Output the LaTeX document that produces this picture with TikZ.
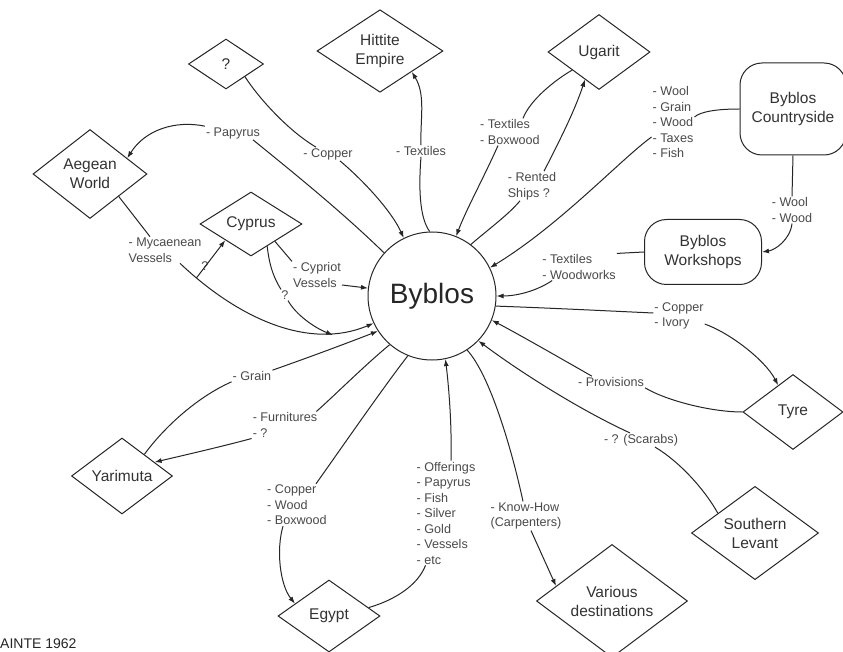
\documentclass[tikz,border=0pt]{standalone}
\usepackage{fontspec}
\setmainfont{Liberation Sans}
\usetikzlibrary{shapes.geometric,arrows.meta}
\definecolor{ln}{HTML}{262626}
\definecolor{lab}{HTML}{4A4A4A}
\definecolor{ntx}{HTML}{333333}
\begin{document}
\begin{tikzpicture}[x=1pt,y=-1pt,
  dia/.style={draw=ln, line width=1pt, shape=diamond, inner sep=0pt, align=center,
    font=\fontsize{15.5}{19}\selectfont, text=ntx},
  rr/.style={draw=ln, line width=1pt, rounded corners=22pt, inner sep=0pt, align=center,
    font=\fontsize{15.5}{19}\selectfont, text=ntx},
  lbl/.style={font=\fontsize{12.6}{15.5}\selectfont, text=lab, align=left, inner sep=1pt},
  conn/.style={draw=ln, line width=1pt},
  arr/.style={conn, -{Latex[length=7pt,width=5pt]}}]
\useasboundingbox (0,0) rectangle (843,652);
\fill[white] (0,0) rectangle (843,652);

% main nodes
\node[circle, draw=ln, line width=1pt, minimum size=128pt, inner sep=0pt,
      font=\fontsize{28}{30}\selectfont, text=ln] (byb) at (432,296) {Byblos};
\node[dia, minimum width=75pt, minimum height=50pt] (qd) at (226,64) {?};
\node[dia, minimum width=126pt, minimum height=76pt] (hit) at (380,51) {Hittite\\Empire};
\node[dia, minimum width=114pt, minimum height=89pt] (aeg) at (90,174) {Aegean\\World};
\node[dia, minimum width=102pt, minimum height=64pt] (cyp) at (251,224) {Cyprus};
\node[dia, minimum width=102pt, minimum height=75pt] (ugr) at (599,52) {Ugarit};
\node[rr, minimum width=106pt, minimum height=92pt] (cty) at (793,109) {Byblos\\Countryside};
\node[rr, minimum width=117pt, minimum height=65pt] (wks) at (703,252) {Byblos\\Workshops};
\node[dia, minimum width=100pt, minimum height=75pt] (tyr) at (793,412) {Tyre};
\node[dia, minimum width=127pt, minimum height=89pt] (sl) at (755,533) {Southern\\Levant};
\node[dia, minimum width=151pt, minimum height=96pt] (var) at (612,601) {Various\\destinations};
\node[dia, minimum width=102pt, minimum height=72pt] (egy) at (329,616) {Egypt};
\node[dia, minimum width=101pt, minimum height=76pt] (yar) at (122,476) {Yarimuta};

% labels
\node[lbl] (lCopper1) at (328,154) {- Copper};
\node[lbl] (lText1) at (421,151) {- Textiles};
\node[lbl] (lPap) at (233,133) {- Papyrus};
\node[lbl] (lMyc) at (165,250) {- Mycaenean\\Vessels};
\node[lbl] (lCyp) at (317,275) {- Cypriot\\Vessels};
\node[lbl] (lQ1) at (205,266) {?};
\node[lbl] (lQ2) at (285,295) {?};
\node[lbl] (lGrain) at (252,376) {- Grain};
\node[lbl] (lFurn) at (285,425) {- Furnitures\\- ?};
\node[lbl] (lEgOut) at (297,505) {- Copper\\- Wood\\- Boxwood};
\node[lbl] (lOff) at (446,513) {- Offerings\\- Papyrus\\- Fish\\- Silver\\- Gold\\- Vessels\\- etc};
\node[lbl] (lKnow) at (526,516) {- Know-How\\(Carpenters)};
\node[lbl] (lScar) at (641,440) {- ? (Scarabs)};
\node[lbl] (lProv) at (611,382) {- Provisions};
\node[lbl] (lCopIv) at (679,316) {- Copper\\- Ivory};
\node[lbl] (lTW) at (579,267) {- Textiles\\- Woodworks};
\node[lbl] (lWW) at (792,210) {- Wool\\- Wood};
\node[lbl] (lCountry) at (673,122) {- Wool\\- Grain\\- Wood\\- Taxes\\- Fish};
\node[lbl] (lUgIn) at (510,132) {- Textiles\\- Boxwood};
\node[lbl] (lRent) at (532,186) {- Rented\\Ships ?};

% source caption
\node[anchor=north west, inner sep=0pt, font=\fontsize{14}{16}\selectfont, text=ln] (src) at (0,639) {AINTE 1962};

% ? -> Byblos (Copper)
\draw[conn] (qd.south east) .. controls (260,100) and (290,132) .. ([xshift=-12pt]lCopper1.north);
\draw[arr] ([xshift=12pt]lCopper1.south) .. controls (365,182) and (392,212) .. (byb.116);
% Byblos -> Hittite (Textiles)
\draw[conn] (byb.92) .. controls (421,220) and (418,195) .. (lText1.south);
\draw[arr] (lText1.north) .. controls (420,120) and (426,95) .. (hit.south east);
% Byblos -> Aegean (Papyrus)
\draw[conn] (byb.138) .. controls (340,210) and (290,170) .. ([xshift=20pt]lPap.south);
\draw[arr] (lPap.north west) .. controls (175,120) and (145,130) .. (aeg.23);
% Aegean -> Byblos (Mycaenean Vessels)
\draw[conn] (aeg.south east) -- ([xshift=-15pt]lMyc.north);
\draw[arr] ([xshift=15pt]lMyc.south) .. controls (240,320) and (310,350) .. (byb.205) coordinate[pos=0.09] (myc1);
\draw[arr] (myc1) -- (cyp.south west);
% Cyprus -> ? -> Byblos
\coordinate (q2end) at (333,335);
\draw[conn] (cyp.-54) .. controls (269,262) and (272,275) .. ([xshift=-4pt]lQ2.north);
\draw[arr] ([xshift=3pt]lQ2.south) .. controls (296,315) and (315,328) .. (q2end);
% Cyprus -> Byblos (Cypriot Vessels)
\draw[conn] (cyp.-36) -- (lCyp.north west);
\draw[arr] ([yshift=-10pt]lCyp.east) -- (byb.173);
% Yarimuta -> Byblos (Grain)
\draw[conn] (yar.44) .. controls (162,430) and (195,398) .. (lGrain.south west);
\draw[arr] (lGrain.north east) .. controls (310,357) and (350,342) .. (byb.213);
% Byblos -> Yarimuta (Furnitures)
\draw[conn] (byb.229) .. controls (365,365) and (335,395) .. ([xshift=-2pt]lFurn.north east);
\draw[arr] (lFurn.south west) .. controls (220,447) and (185,455) .. (yar.23);
% Byblos -> Egypt
\draw[conn] (byb.248) .. controls (385,385) and (340,450) .. ([xshift=-12pt]lEgOut.north east);
\draw[arr] ([xshift=-14pt]lEgOut.south) .. controls (276,550) and (280,585) .. (egy.160);
% Egypt -> Byblos (Offerings)
\draw[conn] (egy.12) .. controls (395,600) and (418,585) .. ([xshift=10pt]lOff.south west);
\draw[arr] ([xshift=5pt]lOff.north) .. controls (452,420) and (448,380) .. (byb.282);
% Byblos -> Various destinations
\draw[conn] (byb.303) .. controls (490,375) and (512,450) .. ([xshift=-3pt]lKnow.north);
\draw[arr] ([xshift=5pt]lKnow.south) -- (var.165);
% Southern Levant -> Byblos
\draw[conn] (sl.152) .. controls (705,490) and (680,462) .. ([xshift=14pt]lScar.south);
\draw[arr] ([xshift=-11pt]lScar.north) .. controls (580,410) and (520,372) .. (byb.316);
% Tyre -> Byblos (Provisions)
\draw[conn] (tyr.west) .. controls (710,412) and (665,400) .. (lProv.south east);
\draw[arr] ([xshift=15pt]lProv.north west) .. controls (560,358) and (520,335) .. (byb.338);
% Byblos -> Tyre (Copper, Ivory)
\draw[conn] (byb.351) .. controls (550,308) and (610,311) .. ([yshift=3pt]lCopIv.west);
\draw[arr] ([yshift=-8pt]lCopIv.east) .. controls (730,333) and (765,360) .. (tyr.119);
% Workshops -> Byblos
\draw[conn] (wks.west) -- (lTW.north east);
\draw[arr] ([xshift=11pt]lTW.south west) .. controls (535,292) and (515,296) .. (byb.0);
% Countryside -> Workshops
\draw[conn] (cty.south) -- (lWW.north);
\draw[arr] (lWW.south) .. controls (790,240) and (775,250) .. (wks.east);
% Countryside -> Byblos
\draw[conn] (cty.west) .. controls (715,109) and (700,112) .. ([yshift=5pt]lCountry.east);
\draw[arr] ([yshift=-15pt]lCountry.west) .. controls (620,160) and (560,225) .. (byb.26);
% Ugarit -> Byblos
\draw[conn] (ugr.214) .. controls (555,80) and (530,100) .. ([xshift=-18pt]lUgIn.north east);
\draw[arr] ([xshift=-12pt]lUgIn.south) .. controls (485,175) and (466,210) .. (byb.68);
% Byblos -> Ugarit (Rented Ships)
\draw[conn] (byb.53) .. controls (490,228) and (508,215) .. ([xshift=-12pt]lRent.south);
\draw[arr] ([xshift=12pt]lRent.north) .. controls (560,140) and (575,110) .. (ugr.243);
\end{tikzpicture}
\end{document}
